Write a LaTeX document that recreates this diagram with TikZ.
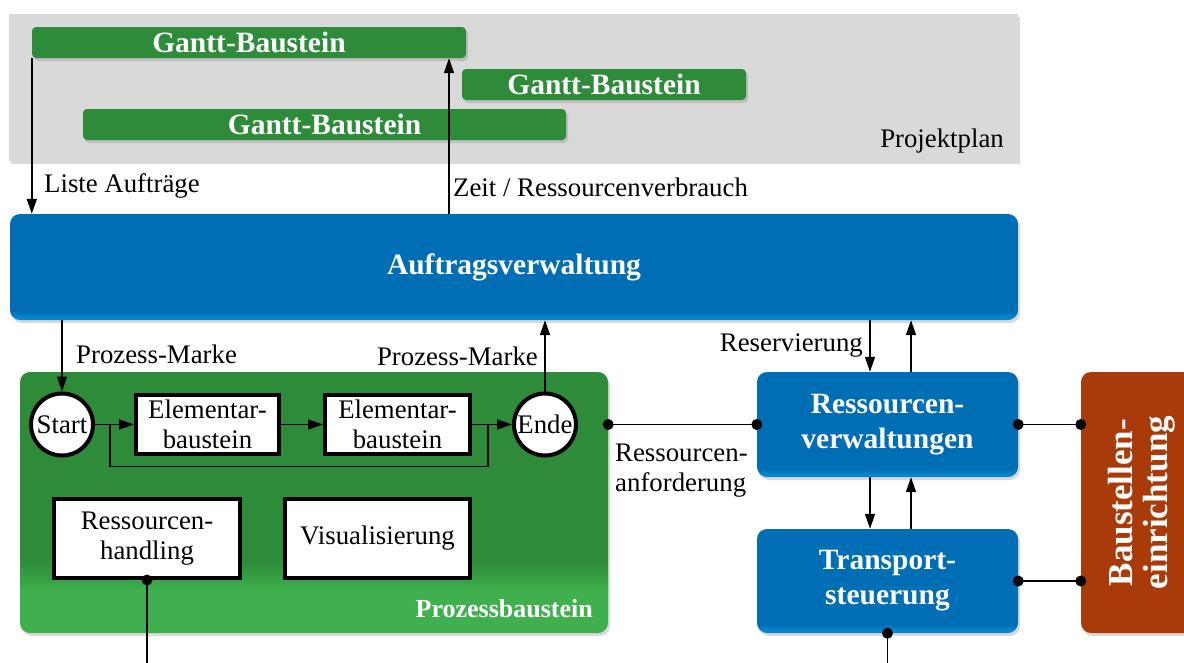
\documentclass[tikz,border=0pt]{standalone}
\usepackage{fontspec}
\setmainfont{Liberation Serif}
\usepackage{xcolor}
\definecolor{PlanGrey}{HTML}{D9D9D9}
\definecolor{DarkGreen}{HTML}{2E8B3A}
\definecolor{LightGreen}{HTML}{3FB04D}
\definecolor{DarkBlue}{HTML}{006EB4}
\definecolor{LightBlue}{HTML}{0A84CC}
\definecolor{DarkRust}{HTML}{A93A0A}
\usepackage{tikz}
\usetikzlibrary{calc,arrows.meta,shadows,positioning}
\newcommand\NormalFont{\fontsize{26.8}{30}\selectfont}
\newcommand\TitleFont{\bfseries\fontsize{29.5}{35}\selectfont}
\newcommand\DotSize{5.5pt}
\pgfdeclareverticalshading{prozshade}{100bp}{color(0bp)=(LightGreen); color(33bp)=(LightGreen); color(39bp)=(DarkGreen); color(100bp)=(DarkGreen)}
\pgfdeclareverticalshading{blueshade}{100bp}{color(0bp)=(LightBlue); color(26.5bp)=(LightBlue); color(29bp)=(DarkBlue); color(100bp)=(DarkBlue)}
\tikzstyle{plan}=[rectangle,fill=PlanGrey,inner sep=0pt,
                     drop shadow={shadow xshift=2pt,shadow yshift=-3pt,opacity=0.3}]
\tikzstyle{gantt}=[rectangle,rounded corners=4pt,fill=DarkGreen,text=white,font=\TitleFont,
                     inner sep=0pt,minimum height=31pt,
                     drop shadow={shadow xshift=2pt,shadow yshift=-3pt,opacity=0.3}]
\tikzstyle{bluebox}=[rectangle,rounded corners=10pt,shading=blueshade,text=white,font=\TitleFont,
                     align=center,inner sep=0pt,
                     drop shadow={shadow xshift=2pt,shadow yshift=-3pt,opacity=0.3}]
\tikzstyle{prozess}=[rectangle,rounded corners=10pt,shading=prozshade,inner sep=0pt,
                     drop shadow={shadow xshift=2pt,shadow yshift=-3pt,opacity=0.3}]
\tikzstyle{sitebox}=[rectangle,rotate=90,rounded corners=10pt,fill=DarkRust,text=white,
                     font=\bfseries\fontsize{35}{35}\selectfont,align=center,inner sep=0pt,
                     drop shadow={shadow xshift=2pt,shadow yshift=-3pt,opacity=0.3}]
\tikzstyle{elem}=[rectangle,draw=black,line width=4pt,fill=white,font=\NormalFont,
                     align=center,inner sep=0pt]
\tikzstyle{endpoint}=[circle,draw=black,line width=4pt,fill=white,font=\NormalFont,
                     inner sep=0pt,minimum size=62pt]
\tikzstyle{arr}=[line width=1.5pt,-{Triangle[length=15pt,width=10pt]}]
\tikzstyle{conn}=[line width=1.5pt]
\tikzstyle{lbl}=[font=\NormalFont,inner sep=0pt]

\begin{document}
\begin{tikzpicture}[x=1pt,y=-1pt]
   \useasboundingbox (0,0) rectangle (1184,662);
   % Projektplan
   \node[plan] (plan) at (513.5,87.5) [minimum width=1009pt,minimum height=147pt] {};
   \node[lbl,anchor=east] (planname) at (1004,141) {Projektplan};
   \node[gantt] (gantt1) at (249,42.5) [minimum width=434pt] {Gantt-Baustein};
   \node[gantt] (gantt2) at (604,84.5) [minimum width=284pt] {Gantt-Baustein};
   \node[gantt] (gantt3) at (324.5,124.5) [minimum width=483pt] {Gantt-Baustein};
   % Auftragsverwaltung
   \node[bluebox] (auftrag) at (514,267) [minimum width=1008pt,minimum height=106pt] {Auftragsverwaltung};
   % Prozessbaustein
   \node[prozess] (proz) at (314,502.5) [minimum width=588pt,minimum height=261pt] {};
   \node[lbl,anchor=east,text=white,font=\bfseries\fontsize{26}{30}\selectfont] (prozname) at (593,609) {Prozessbaustein};
   \node[endpoint] (start) at (62,424.5) {Start};
   \node[elem] (elem1) at (207.5,424.5) [minimum width=143pt,minimum height=59pt] {Elementar-\\baustein};
   \node[elem] (elem2) at (397.5,424.5) [minimum width=145pt,minimum height=59pt] {Elementar-\\baustein};
   \node[endpoint] (ende) at (545,424.5) {Ende};
   \node[elem] (handling) at (147,538.5) [minimum width=186pt,minimum height=79pt] {Ressourcen-\\handling};
   \node[elem] (visual) at (377.5,538.5) [minimum width=185pt,minimum height=79pt] {Visualisierung};
   % Ressourcen
   \node[bluebox] (resv) at (887.5,424.5) [minimum width=261pt,minimum height=105pt] {Ressourcen-\\verwaltungen};
   \node[bluebox] (trans) at (887.5,581) [minimum width=261pt,minimum height=104pt] {Transport-\\steuerung};
   \node[sitebox] (site) at (1142,502.5) [minimum width=261pt,minimum height=122pt] {Baustellen-\\einrichtung};

   % Projektplan <-> Auftragsverwaltung
   \coordinate (zeit) at (449,0);
   \draw[arr] (gantt1.south west) -- (gantt1.south west |- auftrag.north);
   \draw[arr] (zeit |- auftrag.north) -- (zeit |- gantt1.south);
   \node[lbl,anchor=west] (liste) at (44,186) {Liste Aufträge};
   \node[lbl,anchor=west] (verbrauch) at (453,187) {Zeit / Ressourcenverbrauch};
   % Prozess-Marken
   \draw[arr] (start |- auftrag.south) -- (start.north);
   \draw[arr] (ende.north) -- (ende |- auftrag.south);
   \node[lbl,anchor=west] (markein) at (76,354) {Prozess-Marke};
   \node[lbl,anchor=east] (markaus) at (538,356) {Prozess-Marke};
   % Ablauf
   \draw[arr] (start) -- (elem1);
   \draw[arr] (elem1) -- (elem2);
   \draw[arr] (elem2) -- (ende);
   \coordinate (bypassA) at (110,424.5);
   \coordinate (bypassB) at (488,424.5);
   \draw[conn] (bypassA) -- ++(0,42) -| (bypassB);
   % Ressourcenanforderung
   \draw[conn] (proz.east |- resv.west) -- (resv.west);
   \fill (proz.east |- resv.west) circle (\DotSize) (resv.west) circle (\DotSize);
   \node[lbl,anchor=north west,align=left] (anford) at (615,444) {Ressourcen-\\anforderung};
   % Reservierung
   \coordinate (down) at (870,0);
   \coordinate (up) at (911,0);
   \draw[arr] (down |- auftrag.south) -- (down |- resv.north);
   \draw[arr] (up |- resv.north) -- (up |- auftrag.south);
   \node[lbl,anchor=east] (reserv) at (863,346) {Reservierung};
   \draw[arr] (down |- resv.south) -- (down |- trans.north);
   \draw[arr] (up |- trans.north) -- (up |- resv.south);
   % Baustelleneinrichtung
   \draw[conn] (resv.east) -- (resv.east -| site.north);
   \fill (resv.east) circle (\DotSize) (resv.east -| site.north) circle (\DotSize);
   \draw[conn] (trans.east) -- (trans.east -| site.north);
   \fill (trans.east) circle (\DotSize) (trans.east -| site.north) circle (\DotSize);
   % Ausgaenge
   \draw[conn] (trans.south) -- ++(0,30);
   \fill (trans.south) circle (\DotSize);
   \draw[conn] (handling.south) -- ++(0,84);
   \fill (handling.south) circle (\DotSize);
\end{tikzpicture}
\end{document}
